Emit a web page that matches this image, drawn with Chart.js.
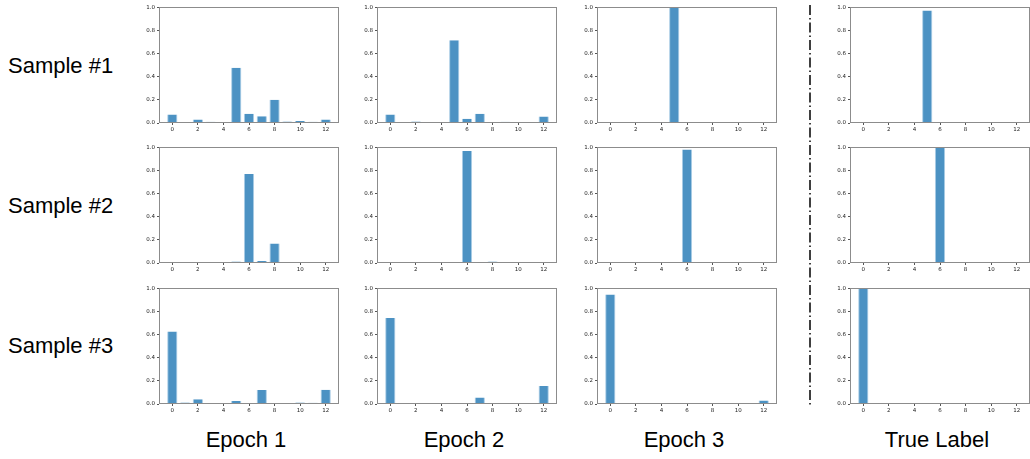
<!DOCTYPE html>
<html lang="en">
<head>
  <meta charset="UTF-8" />
  <title>Prediction distributions per epoch</title>
  <script src="https://cdn.jsdelivr.net/npm/chart.js"></script>
  <style>
    html, body {
      margin: 0;
      padding: 0;
      background: #fff;
      overflow: hidden;
    }
    .stage {
      position: relative;
      width: 1030px;
      height: 459px;
      overflow: hidden;
      font-family: "Liberation Sans", Arial, sans-serif;
      color: #000;
    }
    .stage canvas {
      position: absolute;
    }
    .row-label, .col-label {
      position: absolute;
      font-size: 22px;
      line-height: 22px;
      white-space: nowrap;
    }
    .col-label {
      width: 200px;
      text-align: center;
    }
  </style>
</head>
<body>
  <div class="stage" id="stage"></div>

  <script>
    // classes on the x axis
    const categories = [0, 1, 2, 3, 4, 5, 6, 7, 8, 9, 10, 11, 12];
    const xTicks = [0, 2, 4, 6, 8, 10, 12];
    const yTicks = [0, 0.2, 0.4, 0.6, 0.8, 1.0];

    const rowNames = ['Sample #1', 'Sample #2', 'Sample #3'];
    const colNames = ['Epoch 1', 'Epoch 2', 'Epoch 3', 'True Label'];

    // sample #1
    const s1Epoch1 = [0.073, 0.008, 0.031, 0.011, 0.003, 0.477, 0.079, 0.059, 0.200, 0.014, 0.017, 0.011, 0.031];
    const s1Epoch2 = [0.073, 0.005, 0.014, 0.003, 0.003, 0.715, 0.037, 0.079, 0.008, 0.011, 0.005, 0.005, 0.056];
    const s1Epoch3 = [0, 0, 0, 0, 0, 1.0, 0, 0, 0, 0, 0, 0, 0];
    const s1Label  = [0.003, 0, 0.003, 0, 0, 0.972, 0.006, 0, 0.003, 0.003, 0, 0, 0.002];

    // sample #2
    const s2Epoch1 = [0.003, 0.001, 0.003, 0.001, 0.003, 0.014, 0.769, 0.017, 0.169, 0.002, 0.001, 0.002, 0.004];
    const s2Epoch2 = [0, 0, 0, 0, 0, 0.003, 0.969, 0.003, 0.014, 0, 0, 0, 0];
    const s2Epoch3 = [0, 0, 0, 0, 0, 0, 0.982, 0.003, 0, 0, 0, 0, 0];
    const s2Label  = [0, 0, 0, 0, 0, 0, 1.0, 0, 0, 0, 0, 0, 0];

    // sample #3
    const s3Epoch1 = [0.627, 0.014, 0.040, 0.006, 0.004, 0.025, 0.008, 0.121, 0.002, 0.003, 0.014, 0.011, 0.124];
    const s3Epoch2 = [0.743, 0.006, 0.006, 0.002, 0.004, 0.002, 0.001, 0.056, 0.001, 0.002, 0.004, 0.002, 0.155];
    const s3Epoch3 = [0.946, 0.002, 0.001, 0.001, 0.002, 0.001, 0.002, 0.008, 0, 0, 0.001, 0, 0.031];
    const s3Label  = [1.0, 0, 0, 0, 0, 0, 0, 0, 0, 0, 0, 0, 0];

    const grid = [
      [s1Epoch1, s1Epoch2, s1Epoch3, s1Label],
      [s2Epoch1, s2Epoch2, s2Epoch3, s2Label],
      [s3Epoch1, s3Epoch2, s3Epoch3, s3Label]
    ];

    // plot-area placement (px)
    const colLeft = [159, 377, 597, 850];
    const rowTop = [5, 145, 286];
    const plotW = 180, plotH = 118;
    const yAxisW = 24, xAxisH = 14, padTop = 3, padRight = 3;

    const stage = document.getElementById('stage');

    // full box around the plot area, like matplotlib spines
    const spines = {
      id: 'spines',
      afterDraw(chart) {
        const a = chart.chartArea;
        const ctx = chart.ctx;
        ctx.save();
        ctx.strokeStyle = '#8c8c8c';
        ctx.lineWidth = 1;
        ctx.strokeRect(Math.round(a.left) + 0.5, Math.round(a.top) + 0.5,
          Math.round(a.right - a.left) - 1, Math.round(a.bottom - a.top) - 1);
        ctx.restore();
      }
    };

    const tickFont = { size: 5.5, family: 'DejaVu Sans' };

    function makePanel(values, left, top) {
      const canvas = document.createElement('canvas');
      const w = yAxisW + plotW + padRight;
      const h = padTop + plotH + xAxisH;
      canvas.width = w;
      canvas.height = h;
      canvas.style.left = (left - yAxisW) + 'px';
      canvas.style.top = (top - padTop) + 'px';
      canvas.style.width = w + 'px';
      canvas.style.height = h + 'px';
      stage.appendChild(canvas);

      new Chart(canvas.getContext('2d'), {
        type: 'bar',
        data: {
          datasets: [{
            data: values.map((v, i) => ({ x: categories[i], y: v })),
            backgroundColor: 'rgba(31,119,180,0.8)',
            borderColor: 'rgba(160,198,226,0.9)',
            borderWidth: { left: 1, right: 1, top: 0, bottom: 0 },
            borderSkipped: false,
            categoryPercentage: 1,
            barPercentage: 0.8
          }]
        },
        options: {
          responsive: false,
          animation: false,
          devicePixelRatio: 1,
          layout: { padding: { top: padTop, right: padRight, left: 0, bottom: 0 } },
          plugins: { legend: { display: false }, tooltip: { enabled: false } },
          scales: {
            x: {
              type: 'linear',
              offset: false,
              min: -1.04,
              max: 13.04,
              afterBuildTicks: s => { s.ticks = xTicks.map(v => ({ value: v })); },
              afterFit: s => { s.height = xAxisH; },
              grid: { offset: false, drawOnChartArea: false, drawTicks: true, tickLength: 2, color: '#555' },
              border: { display: false },
              ticks: { font: tickFont, color: '#222', padding: 1, maxRotation: 0, autoSkip: false }
            },
            y: {
              min: 0,
              max: 1,
              afterBuildTicks: s => { s.ticks = yTicks.map(v => ({ value: v })); },
              afterFit: s => { s.width = yAxisW; },
              grid: { drawOnChartArea: false, drawTicks: true, tickLength: 2, color: '#555' },
              border: { display: false },
              ticks: { font: tickFont, color: '#222', padding: 2,
                callback: v => v.toFixed(1) }
            }
          }
        },
        plugins: [spines]
      });
    }

    grid.forEach((row, r) => {
      row.forEach((values, c) => makePanel(values, colLeft[c], rowTop[r]));
    });

    // row and column titles
    const rowBaseline = [74, 214, 354];
    rowNames.forEach((name, r) => {
      const d = document.createElement('div');
      d.className = 'row-label';
      d.textContent = name;
      d.style.left = '8px';
      d.style.top = (rowBaseline[r] - 18.6) + 'px';
      stage.appendChild(d);
    });

    colNames.forEach((name, c) => {
      const d = document.createElement('div');
      d.className = 'col-label';
      d.textContent = name;
      d.style.left = (colLeft[c] + plotW / 2 - 100 - 3) + 'px';
      d.style.top = (448 - 18.6) + 'px';
      stage.appendChild(d);
    });

    // dash-dot divider between predictions and labels
    const sep = document.createElement('canvas');
    sep.width = 6;
    sep.height = 459;
    sep.style.left = '807px';
    sep.style.top = '0px';
    stage.appendChild(sep);
    const sctx = sep.getContext('2d');
    sctx.strokeStyle = '#000';
    sctx.lineWidth = 1.5;
    sctx.setLineDash([10, 3, 1.5, 3]);
    sctx.beginPath();
    sctx.moveTo(3, 5);
    sctx.lineTo(3, 406);
    sctx.stroke();
  </script>
</body>
</html>
